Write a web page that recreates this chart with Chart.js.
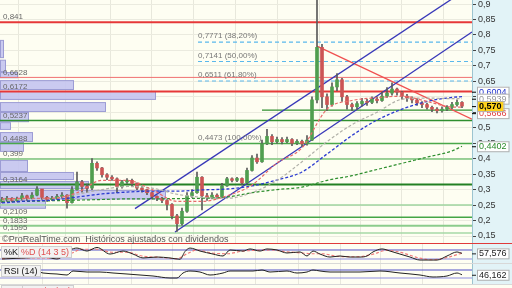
<!DOCTYPE html>
<html>
<head>
<meta charset="utf-8">
<script src="https://cdn.jsdelivr.net/npm/chart.js@4.4.0/dist/chart.umd.min.js"></script>
<style>
body{margin:0;width:512px;height:288px;overflow:hidden;background:#fefef2;position:relative;font-family:"Liberation Sans",Arial,sans-serif}
canvas{position:absolute;left:0}
.sep{position:absolute;left:0;width:512px;height:1px}
.ttl{position:absolute;font-size:9px;line-height:10px;padding:0 2px;background:#f2f2f2;border:1px solid #cfcfcf;color:#111}
.copy{position:absolute;left:2px;top:234px;font-size:9px;color:#555;white-space:nowrap}
</style>
</head>
<body>
<canvas id="main" width="512" height="243" style="top:0"></canvas>
<div class="sep" style="top:243px;background:#e03a3a"></div>
<canvas id="stoch" width="512" height="19" style="top:244px"></canvas>
<div class="sep" style="top:263px;background:#d8d8d8"></div>
<canvas id="rsi" width="512" height="20" style="top:264px"></canvas>
<div class="sep" style="top:284px;background:#d8d8d8"></div>
<div class="copy">©ProRealTime.com&nbsp; Históricos ajustados con dividendos</div>
<div class="ttl" style="left:1px;top:246px">%K</div>
<div class="ttl" style="left:18px;top:246px;color:#e05050">%D (14 3 5)</div>
<div class="ttl" style="left:1px;top:265px">RSI (14)</div>
<div class="ttl" style="left:1px;top:285px">ADX</div>
<div class="ttl" style="left:22px;top:285px;color:#e05050">ADX/R (14)</div>
<script>
// ---- price candles (one every 5 px, index 0..92) ----
const closes = [0.268,0.272,0.265,0.27,0.28,0.272,0.282,0.302,0.275,0.268,
  0.272,0.278,0.282,0.258,0.3,0.325,0.31,0.305,0.385,0.37,
  0.348,0.34,0.335,0.31,0.325,0.33,0.32,0.305,0.3,0.29,
  0.278,0.272,0.265,0.252,0.215,0.19,0.23,0.28,0.29,0.34,
  0.28,0.275,0.282,0.276,0.312,0.335,0.33,0.336,0.322,0.362,
  0.402,0.39,0.448,0.472,0.455,0.462,0.455,0.462,0.45,0.456,
  0.448,0.46,0.59,0.76,0.6,0.575,0.632,0.655,0.6,0.575,
  0.568,0.578,0.585,0.582,0.592,0.588,0.602,0.612,0.625,0.615,
  0.602,0.596,0.59,0.58,0.575,0.566,0.56,0.555,0.56,0.566,
  0.575,0.582,0.57];
const highs = [0.275,0.278,0.274,0.276,0.288,0.282,0.29,0.31,0.3,0.278,
  0.278,0.285,0.29,0.284,0.31,0.357,0.33,0.318,0.4,0.39,
  0.372,0.352,0.345,0.338,0.33,0.336,0.334,0.322,0.31,0.302,
  0.292,0.28,0.275,0.268,0.255,0.22,0.24,0.29,0.3,0.357,
  0.342,0.288,0.29,0.286,0.32,0.34,0.338,0.34,0.338,0.37,
  0.41,0.415,0.46,0.495,0.478,0.47,0.468,0.47,0.465,0.462,
  0.46,0.475,0.6,0.93,0.77,0.61,0.645,0.675,0.66,0.605,
  0.58,0.585,0.595,0.592,0.6,0.6,0.615,0.63,0.645,0.628,
  0.618,0.608,0.6,0.595,0.585,0.58,0.57,0.565,0.568,0.572,
  0.582,0.59,0.585];
const lows = [0.258,0.262,0.26,0.262,0.266,0.265,0.27,0.28,0.268,0.262,
  0.264,0.268,0.272,0.24,0.256,0.298,0.292,0.29,0.3,0.362,
  0.34,0.332,0.33,0.29,0.305,0.32,0.312,0.3,0.292,0.284,
  0.27,0.264,0.258,0.234,0.205,0.165,0.185,0.226,0.275,0.288,
  0.234,0.265,0.27,0.27,0.274,0.31,0.325,0.326,0.315,0.32,
  0.36,0.385,0.388,0.445,0.445,0.45,0.448,0.452,0.442,0.445,
  0.44,0.444,0.458,0.58,0.565,0.555,0.57,0.62,0.585,0.56,
  0.555,0.56,0.57,0.572,0.578,0.58,0.585,0.598,0.605,0.605,
  0.592,0.585,0.58,0.572,0.565,0.56,0.552,0.548,0.55,0.555,
  0.562,0.57,0.565];
const firstOpen = 0.262;

// ---- moving averages, sampled every 5 candles ----
const maIdx   = [0,5,10,15,20,25,30,35,40,45,50,55,60,65,70,75,80,85,90,92];
const maRed   = [0.27,0.272,0.272,0.29,0.33,0.33,0.3,0.262,0.262,0.28,0.315,0.386,0.435,0.56,0.588,0.597,0.602,0.585,0.567,0.5666];
const maGray  = [0.265,0.27,0.272,0.285,0.3,0.31,0.305,0.285,0.275,0.272,0.29,0.33,0.39,0.455,0.51,0.55,0.592,0.596,0.594,0.5939];
const maBlue  = [0.257,0.263,0.266,0.276,0.286,0.292,0.295,0.295,0.299,0.302,0.312,0.331,0.357,0.415,0.475,0.525,0.56,0.585,0.598,0.6004];
const maGreen = [0.26,0.262,0.264,0.266,0.268,0.27,0.27,0.271,0.272,0.276,0.29,0.3,0.308,0.33,0.345,0.365,0.385,0.405,0.425,0.4402];

// ---- horizontal levels (support / resistance) ----
const levelPrices = [0.841,0.6628,0.6172,0.5237,0.4488,0.399,0.3164,0.25,0.2109,0.1833,0.1595];
const levelLabels = ['0,841','0,6628','0,6172','0,5237','0,4488','0,399','0,3164','','0,2109','0,1833','0,1595'];
const levelColors = ['#e63838','#f07070','#e63838','#2f8f2f','#4aa84a','#7cc47c','#238023','#9fd49f','#45a545','#8ccc8c','#a6d8a6'];
const levelWidths = [2,1,2,1.5,1.5,1.5,2,1.5,1.5,2,1.5];

// ---- fibonacci retracement ----
const fibStart = 39.2;
const fibPrices = [0.7771,0.7141,0.6511,0.4473];
const fibLabels = ['0,7771 (38,20%)','0,7141 (50,00%)','0,6511 (61,80%)','0,4473 (100,00%)'];

// ---- trend lines [x0, y0, x1, y1] in candle index / price ----
const channelLow = [34.6,0.163,94,0.8095];
const channelHigh = [26.6,0.2385,95,0.97];
const redTrend = [63,0.764,94,0.528];
const greenShort = [52,0.557,94,0.557];

// ---- volume profile bins (volume in bar length units, max 472) ----
const vpLow  = [0.725,0.68,0.66,0.622,0.59,0.551,0.518,0.493,0.454,0.422,0.357,0.331,0.302,0.268,0.238];
const vpHigh = [0.784,0.72,0.68,0.654,0.619,0.583,0.551,0.518,0.486,0.454,0.396,0.357,0.328,0.299,0.266];
const vpVol  = [3,5,17,73,155,105,28,10,32,23,27,73,88,165,45];
const vpMax = 472;

// ---- right axis ----
const priceTicks = [0.15,0.2,0.25,0.3,0.35,0.4,0.45,0.5,0.55,0.6,0.65,0.7,0.75,0.8,0.85,0.9];
const gridIdx = [8,17.4,25.8,34,42.6,50.8,59.2,67.6,75.6,84];
const lastPrice = 0.570;

// ---- stochastic %K / %D ----
const kIdx = [0,4.6,8.6,11,13.6,15,17,19,21.6,24.2,26.2,28.2,31,33.6,35.6,36.6,37.6,39.6,42.2,44.2,45.6,48.2,49.6,51.6,53,55,57,59.6,61,62.2,63.6,65.6,67.6,69.6,71.6,73,74.2,76,77.6,79.6,81.6,83.6,87,89,91,92];
const kVal = [20,27,33,20,80,93,73,97,53,73,53,27,33,27,18,70,93,73,53,40,80,73,87,73,87,80,60,67,40,73,53,33,40,33,33,40,67,87,73,53,33,13,13,40,67,57.576];
const dIdx = [0,6,11,14,16,19,22,25,28,32,35,37,39,42,45,48,51,54,57,60,62,64,67,71,74,77,80,83,86,89,92];
const dVal = [22,28,25,60,85,85,65,65,40,30,22,55,80,60,55,72,78,80,68,60,55,55,38,35,50,78,62,30,15,30,60];

// ---- RSI ----
const rsiIdx = [0,3,6,8.2,11,13,14.2,17,19.6,22.2,25,27.6,30.2,33.6,35,36.2,37.6,39.6,41.6,44.2,45.6,50.2,52,53.6,57,59,61,62.2,63.6,65.6,71.6,75.6,79.6,83.6,86.2,89,91,92];
const rsiVal = [55,60,70,55,50,45,65,60,60,55,50,45,40,30,30,55,65,60,45,55,65,65,70,60,65,55,60,70,65,60,60,65,55,45,35,40,55,46.162];

const fmt = v => String(Math.round(v * 10000) / 10000).replace('.', ',');
const pts = (xs, ys) => xs.map((x, i) => ({x: x, y: ys[i]}));
const seg = s => [{x: s[0], y: s[1]}, {x: s[2], y: s[3]}];
const FONT = 'Liberation Sans';

const opens = closes.map((c, i) => i === 0 ? firstOpen : closes[i - 1]);
const upColor = opens.map((o, i) => closes[i] >= o ? '#4f9e4f' : '#cc5555');

const bgPlugin = {
    id: 'bg',
    beforeDraw(chart) {
        const {ctx, chartArea: a, width, height} = chart;
        ctx.save();
        ctx.fillStyle = '#fefef2';
        ctx.fillRect(a.left, a.top, a.right - a.left, a.bottom - a.top);
        ctx.fillStyle = '#e2f3f7';
        ctx.fillRect(a.right, 0, width - a.right, height);
        ctx.restore();
    }
};

// volume profile bars drawn under the candles
const vpPlugin = {
    id: 'vp',
    beforeDatasetsDraw(chart) {
        const {ctx, chartArea: a} = chart;
        const y = chart.scales.y;
        ctx.save();
        vpVol.forEach((v, i) => {
            const top = y.getPixelForValue(vpHigh[i]);
            const bot = y.getPixelForValue(vpLow[i]);
            const w = (a.right - a.left) * v / vpMax;
            ctx.fillStyle = 'rgba(196,196,240,0.9)';
            ctx.fillRect(a.left, top + 0.5, w, bot - top - 1);
            ctx.strokeStyle = '#9c9cd4';
            ctx.lineWidth = 1;
            ctx.strokeRect(a.left + 0.5, top + 0.5, w, bot - top - 1);
        });
        ctx.restore();
    }
};

const labelPlugin = {
    id: 'labels',
    afterDatasetsDraw(chart) {
        const {ctx} = chart;
        const y = chart.scales.y, x = chart.scales.x;
        ctx.save();
        ctx.font = '8px "' + FONT + '"';
        ctx.fillStyle = '#666';
        ctx.textBaseline = 'bottom';
        levelPrices.forEach((p, i) => {
            if (levelLabels[i]) ctx.fillText(levelLabels[i], 3, y.getPixelForValue(p) - 1);
        });
        ctx.fillStyle = '#777';
        fibPrices.forEach((p, i) => {
            ctx.fillText(fibLabels[i], x.getPixelForValue(fibStart), y.getPixelForValue(p) - 2);
        });
        ctx.restore();
    },
    afterDraw(chart) {
        const {ctx, chartArea: a} = chart;
        const y = chart.scales.y;
        const boxes = [
            {v: maBlue[maBlue.length - 1], c: '#2233cc', bg: '#fff', dy: -5},
            {v: maGray[maGray.length - 1], c: '#999', bg: '#fff', dy: 0},
            {v: maRed[maRed.length - 1], c: '#e04040', bg: '#fff', dy: 6},
            {v: lastPrice, c: '#000', bg: '#ffd21a', dy: 0, bold: true, t: '0,570'},
            {v: maGreen[maGreen.length - 1], c: '#2a8a2a', bg: '#fff', dy: 0}
        ];
        ctx.save();
        ctx.textBaseline = 'middle';
        boxes.forEach(b => {
            const py = y.getPixelForValue(b.v) + b.dy;
            ctx.font = (b.bold ? 'bold ' : '') + '9px "' + FONT + '"';
            const t = b.t || fmt(b.v);
            const w = ctx.measureText(t).width + 4;
            ctx.fillStyle = b.bg;
            ctx.fillRect(a.right + 5, py - 5, w, 10);
            ctx.strokeStyle = '#b0b0b0';
            ctx.strokeRect(a.right + 5.5, py - 4.5, w, 10);
            ctx.fillStyle = b.c;
            ctx.fillText(t, a.right + 7, py + 0.5);
            ctx.fillStyle = '#000';
            ctx.fillRect(a.right, py, 4, 1);
        });
        ctx.restore();
    }
};

const lineDs = (data, color, width, dash, order) => ({
    type: 'line', data: data, borderColor: color, borderWidth: width,
    borderDash: dash || [], pointRadius: 0, fill: false, order: order,
    cubicInterpolationMode: 'monotone', tension: 0.3
});

const datasets = [];
datasets.push(lineDs(pts(maIdx, maRed), '#e86a6a', 1.2, [3, 2], 1));
datasets.push(lineDs(pts(maIdx, maGray), '#b0b0a8', 1.2, [3, 2], 1));
datasets.push(lineDs(pts(maIdx, maBlue), '#2a3ad0', 1.3, [3, 2], 1));
datasets.push(lineDs(pts(maIdx, maGreen), '#2f8f2f', 1.2, [3, 2], 1));
datasets.push({
    type: 'bar', data: closes.map((c, i) => ({x: i, y: [opens[i], c]})),
    backgroundColor: upColor, borderWidth: 0, barThickness: 3, grouped: false, order: 2
});
datasets.push({
    type: 'bar', data: closes.map((c, i) => ({x: i, y: [lows[i], highs[i]]})),
    backgroundColor: '#5a5a5a', borderWidth: 0, barThickness: 1, grouped: false, order: 3
});
datasets.push(lineDs(seg(channelLow), '#3838b8', 1.3, null, 4));
datasets.push(lineDs(seg(channelHigh), '#3838b8', 1.3, null, 4));
datasets.push(lineDs(seg(redTrend), '#f05050', 1.2, null, 4));
datasets.push(lineDs(seg(greenShort), '#2f8f2f', 1.3, null, 4));
fibPrices.slice(0, 3).forEach(p => {
    datasets.push(lineDs([{x: fibStart, y: p}, {x: 95, y: p}], '#5ab8ec', 1.2, [4, 3], 5));
});
levelPrices.forEach((p, i) => {
    datasets.push(lineDs([{x: -1, y: p}, {x: 95, y: p}], levelColors[i], levelWidths[i], null, 6));
});

new Chart(document.getElementById('main'), {
    type: 'bar',
    data: {datasets: datasets},
    options: {
        responsive: false, animation: false, devicePixelRatio: 1,
        layout: {padding: 0},
        plugins: {legend: {display: false}, tooltip: {enabled: false}},
        scales: {
            x: {
                type: 'linear', min: -0.4, max: 94, offset: false,
                ticks: {display: false},
                grid: {color: '#e8e8dc', drawTicks: false},
                border: {display: false},
                afterBuildTicks: s => { s.ticks = gridIdx.map(v => ({value: v})); },
                afterFit: s => { s.height = 0; s.paddingLeft = 0; s.paddingRight = 0; }
            },
            y: {
                position: 'right', min: 0.1274, max: 0.913,
                ticks: {
                    color: '#333', padding: 2, font: {family: FONT, size: 9},
                    callback: v => fmt(v)
                },
                afterBuildTicks: s => { s.ticks = priceTicks.map(v => ({value: v})); },
                grid: {color: '#ebebdf', tickColor: '#444', tickLength: 4},
                border: {color: '#9cc4d0'},
                afterFit: s => { s.width = 40; s.paddingTop = 0; s.paddingBottom = 0; }
            }
        }
    },
    plugins: [bgPlugin, vpPlugin, labelPlugin]
});

// ---- oscillator panels ----
function subChart(id, lines, yMin, yMax, hi, lo, lastVal) {
    const ds = lines.slice();
    ds.push(lineDs([{x: -1, y: hi}, {x: 95, y: hi}], '#5050c8', 1, null, 5));
    ds.push(lineDs([{x: -1, y: lo}, {x: 95, y: lo}], '#8c8ce0', 1, null, 5));
    const boxPlugin = {
        id: 'box',
        afterDraw(chart) {
            const {ctx, chartArea: a} = chart;
            const py = chart.scales.y.getPixelForValue(lastVal);
            const t = fmt(lastVal);
            ctx.save();
            ctx.font = '9px "' + FONT + '"';
            ctx.textBaseline = 'middle';
            const w = ctx.measureText(t).width + 4;
            const top = Math.min(Math.max(py - 5, 0), chart.height - 11);
            ctx.fillStyle = '#fff';
            ctx.fillRect(a.right + 5, top, w, 10);
            ctx.strokeStyle = '#b0b0b0';
            ctx.strokeRect(a.right + 5.5, top + 0.5, w, 10);
            ctx.fillStyle = '#222';
            ctx.fillText(t, a.right + 7, top + 5.5);
            ctx.fillRect(a.right, py, 4, 1);
            ctx.restore();
        }
    };
    new Chart(document.getElementById(id), {
        type: 'line',
        data: {datasets: ds},
        options: {
            responsive: false, animation: false, devicePixelRatio: 1,
            layout: {padding: 0},
            plugins: {legend: {display: false}, tooltip: {enabled: false}},
            scales: {
                x: {
                    type: 'linear', min: -0.4, max: 94, offset: false,
                    ticks: {display: false}, grid: {color: '#e8e8dc', drawTicks: false},
                    border: {display: false},
                    afterBuildTicks: s => { s.ticks = gridIdx.map(v => ({value: v})); },
                    afterFit: s => { s.height = 0; s.paddingLeft = 0; s.paddingRight = 0; }
                },
                y: {
                    position: 'right', min: yMin, max: yMax,
                    ticks: {display: false}, grid: {display: false},
                    border: {color: '#9cc4d0'},
                    afterFit: s => { s.width = 40; s.paddingTop = 0; s.paddingBottom = 0; }
                }
            }
        },
        plugins: [bgPlugin, boxPlugin]
    });
}

subChart('stoch', [
    lineDs(pts(dIdx, dVal), '#f07a7a', 1.2, [3, 2], 1),
    lineDs(pts(kIdx, kVal), '#222', 1, null, 0)
], -6.7, 120, 80, 20, kVal[kVal.length - 1]);

subChart('rsi', [
    lineDs(pts(rsiIdx, rsiVal), '#222', 1, null, 0)
], 0, 100, 70, 30, rsiVal[rsiVal.length - 1]);
</script>
</body>
</html>
